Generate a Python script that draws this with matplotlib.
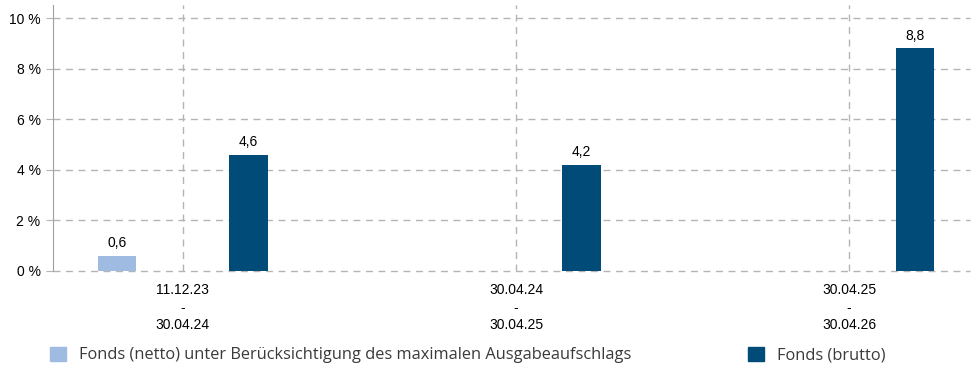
import numpy as np
import matplotlib.pyplot as plt
from matplotlib.patches import Patch

# === Data ===
periods = ["11.12.23\n-\n30.04.24", "30.04.24\n-\n30.04.25", "30.04.25\n-\n30.04.26"]
netto = [0.6, np.nan, np.nan]
brutto = [4.6, 4.2, 8.8]
y_ticks = [0, 2, 4, 6, 8, 10]

netto_label = "Fonds (netto) unter Berücksichtigung des maximalen Ausgabeaufschlags"
brutto_label = "Fonds (brutto)"

c_netto = "#9fbbe2"
c_brutto = "#004b78"
c_grid = "#b4b4b4"

plt.rcParams["font.family"] = ["Liberation Sans", "DejaVu Sans"]

fig = plt.figure(figsize=(9.71, 3.69), dpi=100)
ax = fig.add_axes([53 / 971, 1 - 271 / 369, 917 / 971, 266 / 369])
ax.set_axisbelow(True)

x = np.arange(len(periods))
offset = 0.197
width = 0.115

ax.bar(x - offset, netto, width=width, color=c_netto, zorder=3)
ax.bar(x + offset, brutto, width=width, color=c_brutto, zorder=3)

# value labels above bars, German decimal comma
for xi, v in zip(x - offset, netto):
    if not np.isnan(v):
        ax.annotate(f"{v:.1f}".replace(".", ","), (xi, v), xytext=(0, 4),
                    textcoords="offset points", ha="center", va="bottom", fontsize=10)
for xi, v in zip(x + offset, brutto):
    ax.annotate(f"{v:.1f}".replace(".", ","), (xi, v), xytext=(0, 4),
                textcoords="offset points", ha="center", va="bottom", fontsize=10)

ax.set_xlim(-0.39, 2.363)
ax.set_ylim(0, 10.52)
ax.set_yticks(y_ticks)
ax.set_yticklabels([f"{t} %" for t in y_ticks], fontsize=10)
ax.set_xticks(x)
ax.set_xticklabels(periods, fontsize=10, linespacing=1.3)

ax.grid(True, color=c_grid, linestyle=(0, (5, 4)), linewidth=1)
for gl in ax.get_ygridlines() + ax.get_xgridlines():
    gl.set_clip_on(False)
for s in ["top", "right", "bottom"]:
    ax.spines[s].set_visible(False)
ax.spines["left"].set_color("#a0a0a0")
ax.tick_params(axis="y", length=5, color=c_grid, pad=4)
ax.tick_params(axis="x", length=0, pad=9)

# legend entries placed separately
leg_kw = dict(frameon=False, handlelength=1.0, handleheight=1.0,
              handletextpad=0.75, borderaxespad=0, borderpad=0,
              prop={"family": "Open Sans", "size": 11.8})
l1 = fig.legend(handles=[Patch(color=c_netto, label=netto_label)],
                loc="center left", bbox_to_anchor=(50 / 971, 1 - 355 / 369), **leg_kw)
l2 = fig.legend(handles=[Patch(color=c_brutto, label=brutto_label)],
                loc="center left", bbox_to_anchor=(748 / 971, 1 - 355 / 369), **leg_kw)
for lg in (l1, l2):
    for t in lg.get_texts():
        t.set_color("#3a3a3a")

fig.savefig("out.png", dpi=100)
